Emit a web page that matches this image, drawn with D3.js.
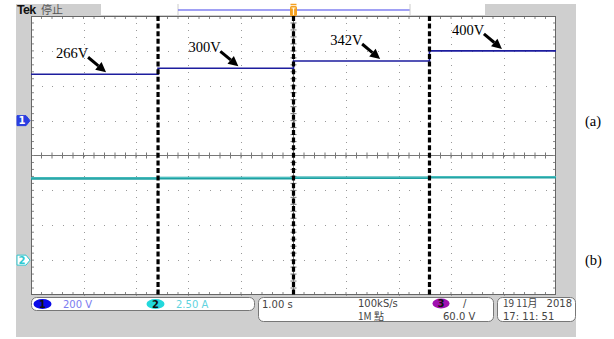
<!DOCTYPE html>
<html>
<head>
<meta charset="utf-8">
<script src="https://cdn.jsdelivr.net/npm/d3@7"></script>
<style>
  html, body { margin: 0; padding: 0; background: #fff; }
  svg { display: block; }
</style>
</head>
<body>
<svg id="chart" width="614" height="339"></svg>
<script>
// Step boundaries along the 10 s record (1.00 s/div)
const stepTimes = [0, 2.42, 5.0, 7.59, 10];
// Channel 1: input voltage for each step (V), 200 V/div
const ch1Volts = [266, 300, 342, 400];
// Channel 2: current for each step (A), 2.50 A/div
const ch2Amps = [5.86, 5.88, 5.9, 5.94];
// Annotation text and the time each arrow points at
const stepLabels = ["266V", "300V", "342V", "400V"];
const labelTimes = [1.43, 3.95, 6.65, 8.97];
// Scope readouts
const chanReadouts = [{ch: "1", text: "200 V"}, {ch: "2", text: "2.50 A"}];
const timeReadout = ["1.00 s", "100kS/s", "1M 點", "60.0 V"];
const dateReadout = ["19 11月", "2018", "17: 11: 51"];
const panelLabels = ["(a)", "(b)"];

const svg = d3.select("#chart");

// Screen geometry: 10 horizontal and 8 vertical divisions
const x = d3.scaleLinear().domain([0, 10]).range([31, 556]);
const xDiv = d3.scaleLinear().domain([0, 10]).range([31, 556]);
const yDiv = d3.scaleLinear().domain([-4, 4]).range([295, 16]);
const ch1Offset = 1, ch1Scale = 200;
const ch2Offset = -3, ch2Scale = 2.5;
const y1 = v => yDiv(ch1Offset + v / ch1Scale);
const y2 = a => yDiv(ch2Offset + a / ch2Scale);

// Instrument frame
svg.append("rect").attr("x", 16).attr("y", 4).attr("width", 560).attr("height", 333).attr("fill", "#cfcfcf");
svg.append("rect").attr("x", 101).attr("y", 4).attr("width", 384).attr("height", 11).attr("fill", "#fff");
svg.append("line").attr("x1", 178).attr("x2", 178).attr("y1", 4).attr("y2", 15).attr("stroke", "#ccc");
svg.append("line").attr("x1", 178).attr("x2", 410).attr("y1", 10).attr("y2", 10).attr("stroke", "#8080f0").attr("stroke-width", 1.5);
svg.append("line").attr("x1", 410).attr("x2", 410).attr("y1", 4).attr("y2", 15).attr("stroke", "#ccc");

svg.append("text").attr("x", 17).attr("y", 14).attr("font-family", "Liberation Sans, Arial, sans-serif")
  .attr("font-weight", "bold").attr("font-size", 12.5).attr("fill", "#111").attr("letter-spacing", -0.7).text("Tek");
svg.append("text").attr("x", 41).attr("y", 14).attr("font-family", "Noto Sans CJK TC, sans-serif")
  .attr("font-size", 11).attr("fill", "#555").text("停止");

// Graticule
const g = svg.append("g");
g.append("rect").attr("x", xDiv(0)).attr("y", yDiv(4)).attr("width", xDiv(10) - xDiv(0))
  .attr("height", yDiv(-4) - yDiv(4)).attr("fill", "#fff");

const dots = [];
d3.range(-3, 4).filter(d => d !== 0).forEach(d => {
  d3.range(0, 50).forEach(k => dots.push([xDiv(k / 5), yDiv(d)]));
});
d3.range(1, 10).filter(d => d !== 5).forEach(d => {
  d3.range(-20, 20).forEach(k => dots.push([xDiv(d), yDiv(k / 5)]));
});
g.selectAll("rect.dot").data(dots).join("rect").attr("class", "dot")
  .attr("x", d => Math.round(d[0])).attr("y", d => Math.round(d[1]))
  .attr("width", 1).attr("height", 1).attr("fill", "#999");

// Centre cross and edge ticks
g.append("line").attr("x1", xDiv(0)).attr("x2", xDiv(10)).attr("y1", yDiv(0)).attr("y2", yDiv(0)).attr("stroke", "#777");
g.append("line").attr("x1", xDiv(5)).attr("x2", xDiv(5)).attr("y1", yDiv(4)).attr("y2", yDiv(-4)).attr("stroke", "#777");
const hTicks = d3.range(1, 50).map(k => xDiv(k / 5));
const vTicks = d3.range(-19, 20).map(k => yDiv(k / 5));
g.selectAll("line.ht").data(hTicks).join("line").attr("class", "ht")
  .attr("x1", d => d).attr("x2", d => d).attr("y1", yDiv(0) - 3).attr("y2", yDiv(0) + 3).attr("stroke", "#777");
g.selectAll("line.vt").data(vTicks).join("line").attr("class", "vt")
  .attr("y1", d => d).attr("y2", d => d).attr("x1", xDiv(5) - 3).attr("x2", xDiv(5) + 3).attr("stroke", "#777");
g.selectAll("line.tt").data(hTicks).join("line").attr("class", "tt")
  .attr("x1", d => d).attr("x2", d => d).attr("y1", yDiv(4)).attr("y2", yDiv(4) + 3).attr("stroke", "#888");
g.selectAll("line.bt").data(hTicks).join("line").attr("class", "bt")
  .attr("x1", d => d).attr("x2", d => d).attr("y1", yDiv(-4)).attr("y2", yDiv(-4) - 3).attr("stroke", "#888");
g.selectAll("line.lt").data(vTicks).join("line").attr("class", "lt")
  .attr("y1", d => d).attr("y2", d => d).attr("x1", xDiv(0)).attr("x2", xDiv(0) + 3).attr("stroke", "#888");
g.selectAll("line.rt").data(vTicks).join("line").attr("class", "rt")
  .attr("y1", d => d).attr("y2", d => d).attr("x1", xDiv(10)).attr("x2", xDiv(10) - 3).attr("stroke", "#888");
g.append("rect").attr("x", xDiv(0) + 0.5).attr("y", yDiv(4) + 0.5).attr("width", xDiv(10) - xDiv(0) - 1)
  .attr("height", yDiv(-4) - yDiv(4) - 1).attr("fill", "none").attr("stroke", "#666");

// Traces
const stepPts = (vals) => vals.map((v, i) => ({t: stepTimes[i], v})).concat([{t: stepTimes[stepTimes.length - 1], v: vals[vals.length - 1]}]);
const ch1Line = d3.line().x(d => x(d.t)).y(d => y1(d.v)).curve(d3.curveStepAfter);
const ch2Line = d3.line().x(d => x(d.t)).y(d => y2(d.v)).curve(d3.curveStepAfter);
svg.append("path").attr("d", ch2Line(stepPts(ch2Amps))).attr("fill", "none").attr("stroke", "#1ea0a2").attr("stroke-width", 2.6);
svg.append("path").attr("d", ch2Line(stepPts(ch2Amps))).attr("fill", "none").attr("stroke", "#5cc9c9").attr("stroke-width", 0.8).attr("transform", "translate(0,-0.6)");
svg.append("path").attr("d", ch1Line(stepPts(ch1Volts))).attr("fill", "none").attr("stroke", "#1d1d9e").attr("stroke-width", 1.6);

// Step markers
svg.selectAll("line.step").data(stepTimes.slice(1, -1)).join("line").attr("class", "step")
  .attr("x1", d => x(d)).attr("x2", d => x(d)).attr("y1", yDiv(4)).attr("y2", yDiv(-4))
  .attr("stroke", "#000").attr("stroke-width", 3.2).attr("stroke-dasharray", "5,2.6");

// Trigger position marker
const trig = svg.append("g").attr("transform", `translate(${x(5)},0)`);
trig.append("rect").attr("x", -3.5).attr("y", 6).attr("width", 7).attr("height", 10).attr("rx", 1.5).attr("fill", "#f5a020");
trig.append("path").attr("d", "M-2,8H2M0,8V15").attr("stroke", "#fff7e0").attr("stroke-width", 1.2);
trig.append("path").attr("d", "M-3,4.5H3").attr("stroke", "#f5a020").attr("stroke-width", 1.5);

// Value annotations with arrows
const ann = svg.append("g");
stepLabels.forEach((lab, i) => {
  const tipX = x(labelTimes[i]);
  const tipY = y1(ch1Volts[i]) - 2;
  ann.append("text").attr("x", tipX - 50).attr("y", tipY - 14)
    .attr("font-family", "Liberation Serif, Times New Roman, serif").attr("font-size", 14.5)
    .attr("fill", "#000").text(lab);
  const sx = tipX - 18, sy = tipY - 15;
  const ang = Math.atan2(tipY - sy, tipX - sx);
  const hl = 10, hw = 5;
  const bx = tipX - hl * Math.cos(ang), by = tipY - hl * Math.sin(ang);
  ann.append("line").attr("x1", sx).attr("y1", sy).attr("x2", bx).attr("y2", by)
    .attr("stroke", "#000").attr("stroke-width", 3);
  const px = -Math.sin(ang) * hw, py = Math.cos(ang) * hw;
  ann.append("path").attr("d", `M${tipX},${tipY}L${bx + px},${by + py}L${bx - px},${by - py}Z`).attr("fill", "#000");
});

// Channel ground markers
function chMarker(yPos, label, fill, stroke, color) {
  const m = svg.append("g").attr("transform", `translate(17,${yPos})`);
  m.append("path").attr("d", "M0,-5H9L13,0L9,5H0Z").attr("fill", fill).attr("stroke", stroke).attr("stroke-width", 1);
  m.append("text").attr("x", 5).attr("y", 3.8).attr("text-anchor", "middle").attr("font-family", "DejaVu Sans, sans-serif")
    .attr("font-size", 10).attr("font-weight", "bold").attr("fill", color).text(label);
}
chMarker(yDiv(ch1Offset), "1", "#2a3fe0", "#2a3fe0", "#fff");
chMarker(yDiv(ch2Offset), "2", "#fff", "#30c8d0", "#30c8d0");

// Panel labels
svg.selectAll("text.panel").data(panelLabels).join("text").attr("class", "panel")
  .attr("x", 585).attr("y", (d, i) => [yDiv(ch1Offset), yDiv(ch2Offset)][i] + 5)
  .attr("font-family", "Liberation Serif, Times New Roman, serif").attr("font-size", 14.5).attr("fill", "#000").text(d => d);

// Readout boxes
const ro = svg.append("g").attr("font-family", "DejaVu Sans, sans-serif").attr("font-size", 10);
ro.append("rect").attr("x", 31.5).attr("y", 297.5).attr("width", 223).attr("height", 13).attr("rx", 5).attr("fill", "#fff").attr("stroke", "#777");
ro.append("rect").attr("x", 258.5).attr("y", 297.5).attr("width", 235).attr("height", 24).attr("rx", 5).attr("fill", "#fff").attr("stroke", "#777");
ro.append("rect").attr("x", 497.5).attr("y", 297.5).attr("width", 78).attr("height", 24).attr("rx", 5).attr("fill", "#fff").attr("stroke", "#777");

const chBadge = [{cx: 42.5, fill: "#0a0ae8", tx: 63, col: "#7b7bf0"}, {cx: 155.5, fill: "#22d8dc", tx: 176, col: "#5fd3e0"}];
chanReadouts.forEach((c, i) => {
  const b = chBadge[i];
  ro.append("ellipse").attr("cx", b.cx).attr("cy", 304).attr("rx", 9).attr("ry", 5).attr("fill", b.fill);
  ro.append("text").attr("x", b.cx).attr("y", 307.5).attr("text-anchor", "middle").attr("font-weight", "bold").attr("fill", "#111").text(c.ch);
  ro.append("text").attr("x", b.tx).attr("y", 308).attr("fill", b.col).text(c.text);
});

ro.append("text").attr("x", 262).attr("y", 308).attr("fill", "#444").text(timeReadout[0]);
ro.append("text").attr("x", 358).attr("y", 307).attr("fill", "#444").text(timeReadout[1]);
ro.append("text").attr("x", 358).attr("y", 320).attr("fill", "#444").attr("font-family", "Noto Sans CJK TC, DejaVu Sans, sans-serif").text(timeReadout[2]);
ro.append("ellipse").attr("cx", 441).attr("cy", 303.5).attr("rx", 8.5).attr("ry", 5).attr("fill", "#a010b0");
ro.append("text").attr("x", 441).attr("y", 307).attr("text-anchor", "middle").attr("font-weight", "bold").attr("fill", "#111").text("3");
ro.append("text").attr("x", 463).attr("y", 307).attr("fill", "#444").text("/");
ro.append("text").attr("x", 443).attr("y", 320).attr("fill", "#444").text(timeReadout[3]);

ro.append("text").attr("x", 503).attr("y", 307).attr("fill", "#444")
  .attr("font-family", "Noto Sans CJK TC, DejaVu Sans, sans-serif").text(dateReadout[0]);
ro.append("text").attr("x", 572).attr("y", 307).attr("text-anchor", "end").attr("fill", "#444").text(dateReadout[1]);
ro.append("text").attr("x", 503).attr("y", 320).attr("fill", "#444").text(dateReadout[2]);
</script>
</body>
</html>
